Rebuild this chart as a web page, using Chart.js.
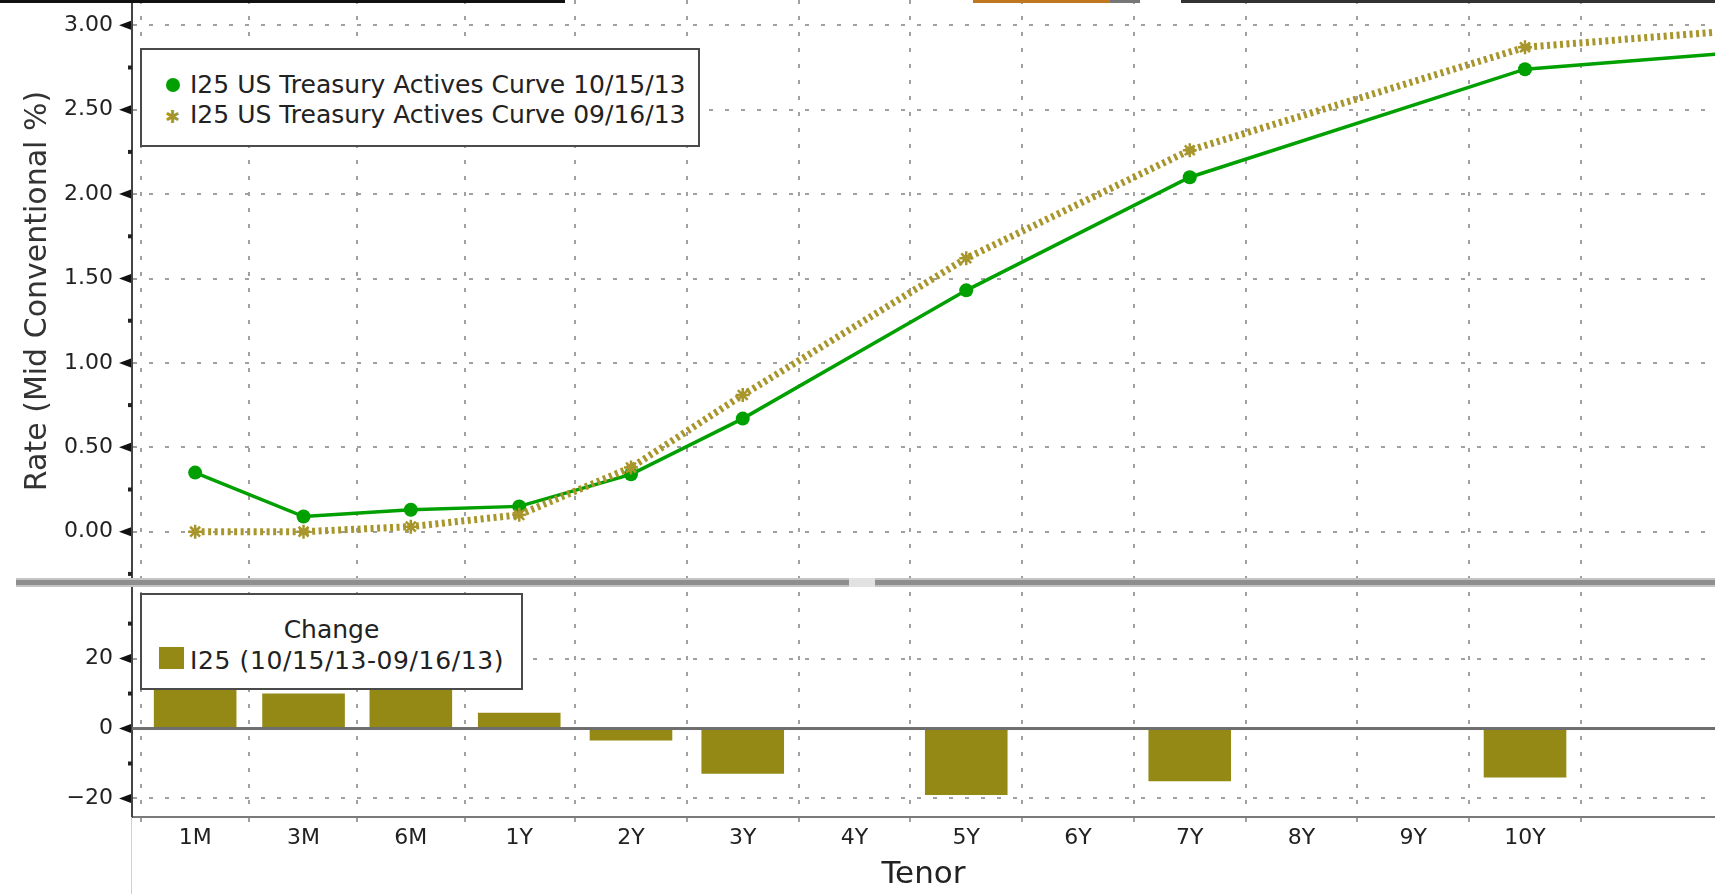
<!DOCTYPE html>
<html>
<head>
<meta charset="utf-8">
<script src="https://cdn.jsdelivr.net/npm/chart.js@4.4.0/dist/chart.umd.min.js"></script>
<style>
	body { margin: 0; background: #fff; overflow: hidden; }
	#wrap { position: relative; width: 1715px; height: 894px; }
	#canvas { position: absolute; left: 0; top: 0; }
	.strip { position: absolute; top: 0; height: 3px; }
	.legend {
		position: absolute; background: #fff; border: 2px solid #4a4a4a; box-sizing: border-box;
		font-family: 'DejaVu Sans', sans-serif;
		font-size: 25px; color: #222; white-space: nowrap;
	}
	.row { position: absolute; left: 48px; line-height: 30px; }
	.dot { position: absolute; width: 14px; height: 14px; border-radius: 7px; background: #00a000; }
	.star { position: absolute; color: #a5952a; font-size: 18px; line-height: 18px; }
	.sq { position: absolute; width: 25px; height: 22px; background: #948914; }
</style>
</head>
<body>
<div id="wrap">
	<canvas id="canvas" width="1715" height="894"></canvas>
	<div class="strip" style="left:0;width:565px;background:#111;"></div>
	<div class="strip" style="left:973px;width:137px;background:#c07820;"></div>
	<div class="strip" style="left:1110px;width:30px;background:#777;"></div>
	<div class="strip" style="left:1181px;width:534px;background:#333;"></div>

	<div class="legend" style="left:140px;top:48px;width:560px;height:99px;">
		<div class="dot" style="left:24px;top:28px;"></div>
		<div class="row" style="top:20px;">I25 US Treasury Actives Curve 10/15/13</div>
		<div class="star" style="left:23px;top:58px;">✱</div>
		<div class="row" style="top:50px;">I25 US Treasury Actives Curve 09/16/13</div>
	</div>

	<div class="legend" style="left:140px;top:593px;width:383px;height:97px;">
		<div style="position:absolute;left:0;width:100%;top:20px;text-align:center;line-height:30px;">Change</div>
		<div class="sq" style="left:17px;top:52px;"></div>
		<div class="row" style="top:51px;letter-spacing:0.6px;">I25 (10/15/13-09/16/13)</div>
	</div>
</div>
<script>
// tenor labels and their place on the tenor axis (years linear from 2Y on)
const tenors = ["1M", "3M", "6M", "1Y", "2Y", "3Y", "4Y", "5Y", "6Y", "7Y", "8Y", "9Y", "10Y", "30Y"];
const tenorPos = [0.1, 1.07, 2.03, 3, 4, 5, 6, 7, 8, 9, 10, 11, 12, 32];

// curves, % (no actives at 4Y, 6Y, 8Y, 9Y)
const curve101513 = [0.35, 0.09, 0.13, 0.15, 0.34, 0.67, null, 1.43, null, 2.10, null, null, 2.74, 3.79];
const curve091613 = [0.00, 0.00, 0.03, 0.10, 0.38, 0.81, null, 1.62, null, 2.26, null, null, 2.87, 3.92];
// change, bp
const changeBp = [34, 10, 12, 4.5, -3.4, -12.9, null, -19.0, null, -15.1, null, null, -14.0, -13];

const tickTenors = 13; // labelled ticks 1M..10Y
const rateTicks = [0, 0.5, 1, 1.5, 2, 2.5, 3];
const rateMinor = [-0.25, 0.25, 0.75, 1.25, 1.75, 2.25, 2.75];
const changeTicks = [-20, 0, 20];
const changeMinor = [-10, 10, 30];

const GREEN = "#00a000";
const OLIVE = "#a8962c";
const BAR = "#948914";
const GRID = "#a0a0a0";

function toPoints(values) {
	const pts = [];
	values.forEach((v, i) => {
		if (v !== null) pts.push({ x: tenorPos[i], y: v });
	});
	return pts;
}

function noPad(scale) {
	scale.paddingTop = 0;
	scale.paddingBottom = 0;
	scale.paddingLeft = 0;
	scale.paddingRight = 0;
}

// axis triangles, minor dots, zero line, panel separator
const decorations = {
	id: "decorations",
	afterDatasetsDraw(chart) {
		const ctx = chart.ctx;
		const area = chart.chartArea;
		const y = chart.scales.y;
		const y2 = chart.scales.y2;
		ctx.save();

		// zero line of the change panel
		const z = y2.getPixelForValue(0);
		ctx.fillStyle = "#6e6e6e";
		ctx.fillRect(area.left, z - 1.5, area.right - area.left, 3);

		// separator between panels
		const sep = y2.top;
		ctx.fillStyle = "#c4c4c4";
		ctx.fillRect(16, sep - 4, 1715 - 16, 9);
		ctx.fillStyle = "#8e8e8e";
		ctx.fillRect(16, sep - 2, 1715 - 16, 5);
		ctx.fillStyle = "#e2e2e2";
		ctx.fillRect(849, sep - 4, 26, 9);

		// major tick triangles
		ctx.fillStyle = "#111";
		const tri = (py) => {
			ctx.beginPath();
			ctx.moveTo(area.left - 13, py);
			ctx.lineTo(area.left - 1, py - 4.5);
			ctx.lineTo(area.left - 1, py + 4.5);
			ctx.closePath();
			ctx.fill();
		};
		rateTicks.forEach(v => tri(y.getPixelForValue(v)));
		changeTicks.forEach(v => tri(y2.getPixelForValue(v)));

		// minor ticks
		ctx.fillStyle = "#222";
		rateMinor.forEach(v => ctx.fillRect(area.left - 4, y.getPixelForValue(v) - 2, 4, 4));
		changeMinor.forEach(v => ctx.fillRect(area.left - 4, y2.getPixelForValue(v) - 2, 4, 4));

		// faint left rule under the axis
		ctx.fillStyle = "#d0d0d0";
		ctx.fillRect(area.left - 1, area.bottom, 1, chart.height - area.bottom);
		ctx.restore();
	},
};

window.onload = () => {
	const ctx = document.getElementById("canvas").getContext("2d");

	Chart.defaults.font.family = "'DejaVu Sans', sans-serif";
	Chart.defaults.color = "#222";

	const config = {
		type: "bar",
		data: {
			datasets: [
				{
					type: "line",
					label: "I25 US Treasury Actives Curve 09/16/13",
					data: toPoints(curve091613),
					yAxisID: "y",
					order: 0,
					borderColor: OLIVE,
					borderWidth: 7,
					borderDash: [3, 3.5],
					pointStyle: "star",
					pointRadius: 7,
					pointBorderWidth: 2.5,
					pointBorderColor: OLIVE,
					pointBackgroundColor: OLIVE,
				},
				{
					type: "line",
					label: "I25 US Treasury Actives Curve 10/15/13",
					data: toPoints(curve101513),
					yAxisID: "y",
					order: 1,
					borderColor: GREEN,
					borderWidth: 3.5,
					pointRadius: 7,
					pointBorderWidth: 0,
					pointBackgroundColor: GREEN,
				},
				{
					type: "bar",
					label: "I25 (10/15/13-09/16/13)",
					data: toPoints(changeBp),
					yAxisID: "y2",
					order: 2,
					backgroundColor: BAR,
					barPercentage: 0.77,
					categoryPercentage: 1,
				},
			],
		},
		options: {
			responsive: false,
			animation: false,
			devicePixelRatio: 1,
			layout: { padding: 0, autoPadding: false },
			plugins: {
				legend: { display: false },
				tooltip: { enabled: false },
			},
			scales: {
				x: {
					type: "linear",
					position: "bottom",
					offset: false,
					min: -0.465,
					max: 13.7,
					afterBuildTicks: (axis) => {
						axis.ticks = tenorPos.slice(0, tickTenors).map(v => ({ value: v }));
					},
					afterFit: (axis) => {
						axis.height = 77;
						noPad(axis);
					},
					ticks: {
						autoSkip: false,
						maxRotation: 0,
						padding: 3,
						font: { size: 22 },
						callback: (v) => tenors[tenorPos.indexOf(v)],
					},
					grid: {
						color: GRID,
						lineWidth: 2,
						tickLength: 5,
						tickColor: GRID,
					},
					border: { display: true, color: "#7a7a7a", width: 2, dash: [4, 12] },
					title: {
						display: true,
						text: "Tenor",
						font: { size: 31 },
						padding: { top: 0, bottom: 0 },
					},
				},
				y2: {
					type: "linear",
					position: "left",
					stack: "panels",
					stackWeight: 235,
					min: -25.3,
					max: 41.9,
					afterBuildTicks: (axis) => {
						axis.ticks = changeTicks.map(v => ({ value: v }));
					},
					afterFit: (axis) => {
						axis.width = 132;
						noPad(axis);
					},
					ticks: {
						padding: 19,
						font: { size: 22 },
						callback: (v) => v < 0 ? "\u2212" + Math.abs(v) : String(v),
					},
					grid: {
						color: (c) => c.tick && c.tick.value === 0 ? "rgba(0,0,0,0)" : GRID,
						lineWidth: 2,
						drawTicks: false,
					},
					border: { display: true, color: "#444", width: 2, dash: [4, 12] },
				},
				y: {
					type: "linear",
					position: "left",
					stack: "panels",
					stackWeight: 582,
					min: -0.298,
					max: 3.15,
					afterBuildTicks: (axis) => {
						axis.ticks = rateTicks.map(v => ({ value: v }));
					},
					afterFit: (axis) => {
						axis.width = 132;
						noPad(axis);
					},
					ticks: {
						padding: 19,
						font: { size: 22 },
						callback: (v) => v.toFixed(2),
					},
					grid: { color: GRID, lineWidth: 2, drawTicks: false },
					border: { display: true, color: "#444", width: 2, dash: [4, 12] },
					title: {
						display: true,
						text: "Rate (Mid Conventional %)",
						color: "#333",
						font: { size: 30 },
						padding: { top: 20, bottom: 0 },
					},
				},
			},
		},
		plugins: [decorations],
	};

	const chart = new Chart(ctx, config);
};
</script>
</body>
</html>
